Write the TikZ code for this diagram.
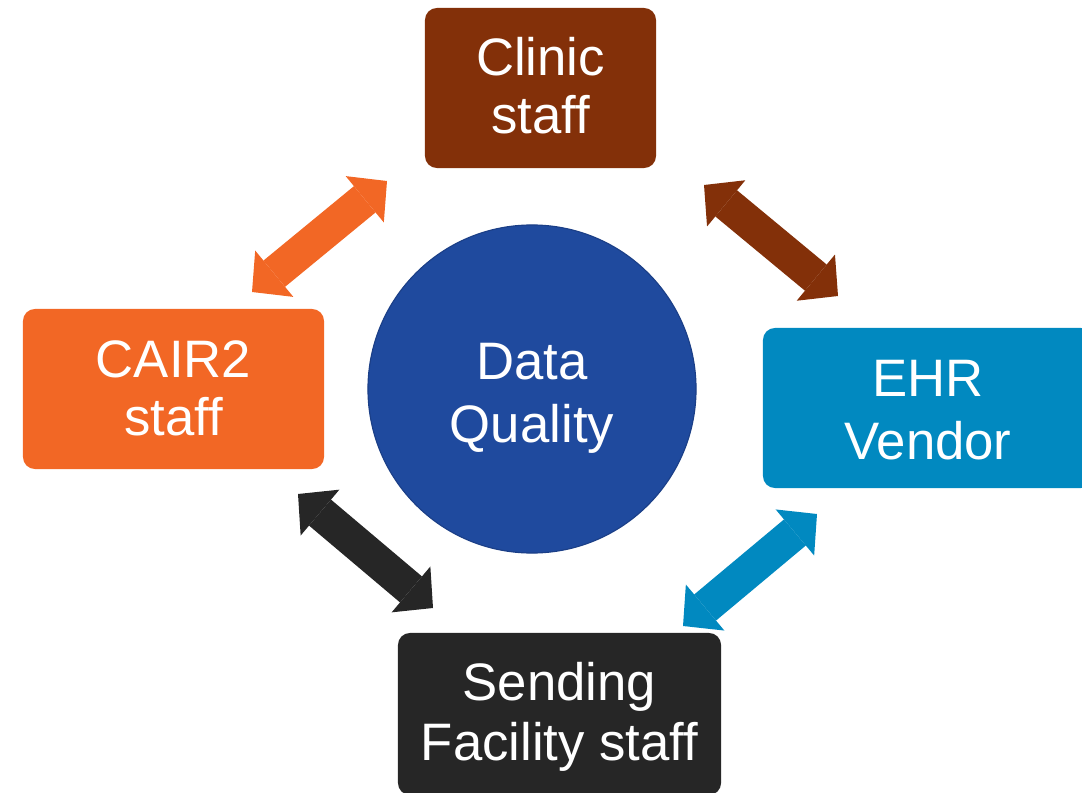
\documentclass[tikz,border=0pt]{standalone}
\usepackage{fontspec}
\setmainfont{Liberation Sans}
\usetikzlibrary{arrows.meta}
\definecolor{clinicbrown}{HTML}{833009}
\definecolor{cairorange}{HTML}{F26725}
\definecolor{ehrblue}{HTML}{0189C0}
\definecolor{sendgray}{HTML}{262626}
\definecolor{dqblue}{HTML}{1F4A9E}
\definecolor{dqedge}{HTML}{1B3F87}

\begin{document}
\begin{tikzpicture}[x=0.025cm,y=-0.025cm]
	\tikzstyle{party}=[rectangle,rounded corners=0.3cm,inner sep=0pt,align=center,text=white,
		font=\fontsize{37.5}{41}\selectfont,minimum height=4cm,text depth=0pt,text height=2.3cm];
	\tikzstyle{hub}=[circle,draw=dqedge,line width=0.8pt,fill=dqblue,inner sep=0pt,align=center,
		text=white,font=\fontsize{37.5}{44.8}\selectfont,minimum size=8.2cm,text depth=0pt,text height=2.65cm];
	\tikzstyle{twoway}=[line width=0.85cm,
		{Triangle[length=0.72cm,width=1.5cm,line width=0pt]}-{Triangle[length=0.72cm,width=1.5cm,line width=0pt]}];

	\useasboundingbox (0,0) rectangle (1082,793);

	\node[party,fill=clinicbrown,minimum width=5.775cm,text height=2.25cm] (clinic) at (540.5,88) {Clinic\\staff};
	\node[party,fill=cairorange,minimum width=7.525cm] (cair) at (173.5,389) {CAIR2\\staff};
	\node[party,fill=ehrblue,minimum width=8.25cm,font=\fontsize{37.5}{44.8}\selectfont,text height=2.55cm] (ehr) at (928,408) {EHR\\Vendor};
	\node[party,fill=sendgray,minimum width=8.075cm,minimum height=4.05cm,font=\fontsize{37.5}{42}\selectfont] (sending) at (559.5,714) {Sending\\Facility staff};
	\node[hub] (dq) at (532,389) {Data\\Quality};

	% arrow ends between the boxes
	\coordinate (cair-end)  at (252,292);
	\coordinate (clinic-w)  at (387,181);
	\coordinate (clinic-e)  at (704,185);
	\coordinate (ehr-top)   at (838,296);
	\coordinate (ehr-low)   at (817,514);
	\coordinate (send-e)    at (683,626);
	\coordinate (cair-low)  at (298,494);
	\coordinate (send-w)    at (433,608);

	\draw[twoway,cairorange]  (cair-end) -- (clinic-w);
	\draw[twoway,clinicbrown] (clinic-e) -- (ehr-top);
	\draw[twoway,ehrblue]     (ehr-low)  -- (send-e);
	\draw[twoway,sendgray]    (cair-low) -- (send-w);
\end{tikzpicture}
\end{document}
